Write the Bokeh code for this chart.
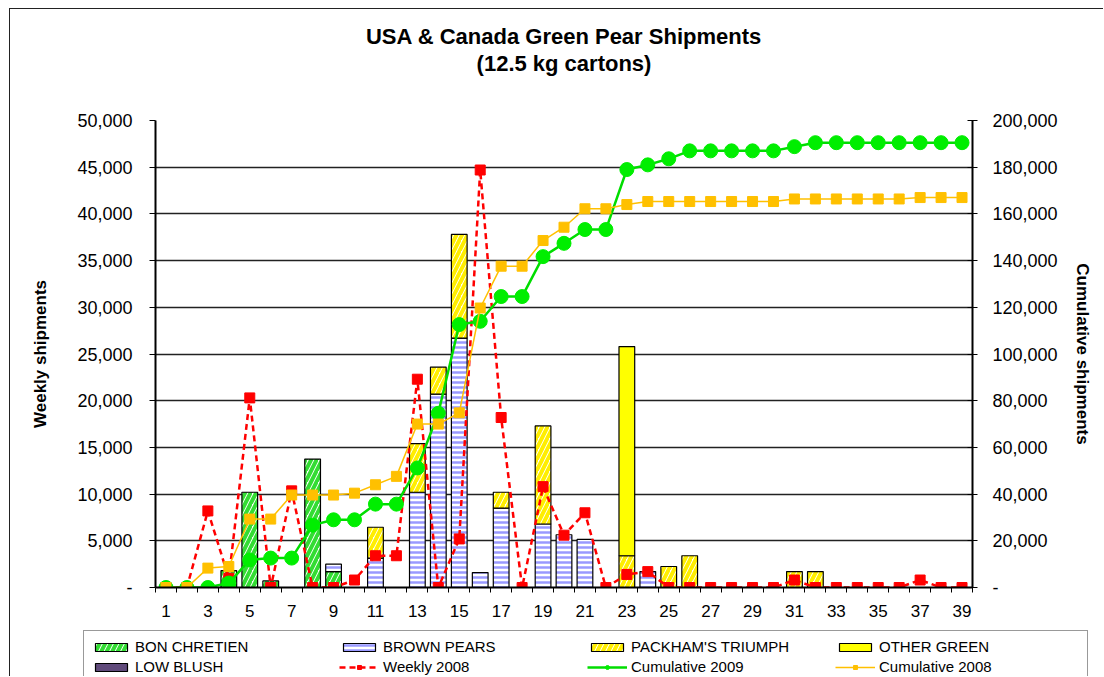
from bokeh.plotting import figure
from bokeh.layouts import column
from bokeh.models import (ColumnDataSource, Range1d, LinearAxis, FixedTicker, Legend, LegendItem,
                          Title, CDSView, BooleanFilter, NumeralTickFormatter)
from bokeh.embed import file_html
from bokeh.resources import INLINE

# ---------------- data ----------------
weeks = list(range(1, 40))
bon_chretien = [0, 0, 0, 1800, 10200, 700, 0, 13750, 1700, 0, 0, 0, 0, 0, 0, 0, 0, 0, 0, 0,
                0, 0, 0, 0, 0, 0, 0, 0, 0, 0, 0, 0, 0, 0, 0, 0, 0, 0, 0]
brown_pears = [0, 0, 0, 0, 0, 0, 0, 0, 800, 0, 3150, 0, 10200, 20700, 26700, 1600, 8500, 0, 6800, 5650,
               5150, 0, 0, 1700, 0, 0, 0, 0, 0, 0, 0, 0, 0, 0, 0, 0, 0, 0, 0]
packhams = [0, 0, 0, 0, 0, 0, 0, 0, 0, 0, 3300, 0, 5200, 2900, 11100, 0, 1700, 0, 10500, 0,
            0, 0, 3400, 0, 2250, 3400, 0, 0, 0, 0, 1700, 1700, 0, 0, 0, 0, 0, 0, 0]
other_green = [0, 0, 0, 0, 0, 0, 0, 0, 0, 0, 0, 0, 0, 0, 0, 0, 0, 0, 0, 0,
               0, 0, 22400, 0, 0, 0, 0, 0, 0, 0, 0, 0, 0, 0, 0, 0, 0, 0, 0]
low_blush = [0] * 39
weekly_2008 = [0, 0, 8200, 1000, 20300, 0, 10350, 0, 0, 800, 3400, 3400, 22300, 0, 5200, 44700, 18200, 0,
               10800, 5600, 8000, 0, 1400, 1700, 0, 0, 0, 0, 0, 0, 800, 0, 0, 0, 0, 0, 800, 0, 0]
cumulative_2009 = [0, 0, 0, 1900, 11800, 12600, 12600, 26700, 29000, 29000, 35700, 35700, 51200, 74600,
                   112600, 114000, 124600, 124600, 141700, 147400, 153300, 153300, 179000, 181000, 183600,
                   187000, 187000, 187000, 187000, 187000, 188800, 190500, 190500, 190500, 190500, 190500,
                   190500, 190500, 190500]
cumulative_2008 = [0, 0, 8300, 9000, 29300, 29300, 39600, 39600, 39600, 40400, 44000, 47600, 70000, 70000,
                   74800, 119700, 137600, 137600, 148600, 154300, 162200, 162200, 164000, 165300, 165300,
                   165300, 165300, 165300, 165300, 165300, 166400, 166400, 166400, 166400, 166400, 166400,
                   167000, 167000, 167000]
x_tick_labels = list(range(1, 40, 2))
left_ticks = list(range(0, 50001, 5000))
right_ticks = list(range(0, 200001, 20000))

series_names = ["BON CHRETIEN", "BROWN PEARS", "PACKHAM'S TRIUMPH", "OTHER GREEN", "LOW BLUSH"]
series_keys = ["bc", "brown", "pack", "other", "blush"]
series_values = [bon_chretien, brown_pears, packhams, other_green, low_blush]

FONT = "Liberation Sans"

source = ColumnDataSource(dict(week=weeks, bc=bon_chretien, brown=brown_pears, pack=packhams,
                               other=other_green, blush=low_blush, w08=weekly_2008,
                               c09=cumulative_2009, c08=cumulative_2008))

bar_styles = [
    dict(fill_color="white", hatch_pattern="right_diagonal_line", hatch_color="#33DD33", hatch_weight=4, hatch_scale=11),
    dict(fill_color="white", hatch_pattern="horizontal_line", hatch_color="#9999FF", hatch_weight=2.5, hatch_scale=5),
    dict(fill_color="white", hatch_pattern="right_diagonal_line", hatch_color="#FFEE00", hatch_weight=4, hatch_scale=11),
    dict(fill_color="#FFFF00"),
    dict(fill_color="#604A7B"),
]
w08_style = dict(line_color="#FF0000", line_width=2.5, line_dash="6 4")
w08_mark = dict(marker="square", size=10, fill_color="#FF0000", line_color="#FF0000")
c09_style = dict(line_color="#00DD00", line_width=2.5)
c09_mark = dict(marker="circle", size=14, fill_color="#00EE00", line_color="#00EE00")
c08_style = dict(line_color="#FFC000", line_width=1.5)
c08_mark = dict(marker="square", size=10, fill_color="#FFC000", line_color="#FFC000")


def add_marks(fig, use_views):
    bars = fig.vbar_stack(series_keys, x="week", width=0.75, source=source,
                          line_color="black", line_width=1.2,
                          fill_color=[s["fill_color"] for s in bar_styles])
    for r, st, vals in zip(bars, bar_styles, series_values):
        for k, v in st.items():
            setattr(r.glyph, k, v)
        if use_views:
            r.view = CDSView(filter=BooleanFilter([v > 0 for v in vals]))
    lines = [
        (fig.line("week", "w08", source=source, **w08_style),
         fig.scatter("week", "w08", source=source, **w08_mark)),
        (fig.line("week", "c09", source=source, y_range_name="cum", **c09_style),
         fig.scatter("week", "c09", source=source, y_range_name="cum", **c09_mark)),
        (fig.line("week", "c08", source=source, y_range_name="cum", **c08_style),
         fig.scatter("week", "c08", source=source, y_range_name="cum", **c08_mark)),
    ]
    return bars, lines


p = figure(width=1094, height=621, output_backend="svg", toolbar_location=None,
           x_range=Range1d(0.5, 39.5), y_range=Range1d(0, 50000),
           min_border_left=145, min_border_right=132, min_border_top=111, min_border_bottom=43)
p.extra_y_ranges = {"cum": Range1d(0, 200000)}
p.outline_line_color = None
p.background_fill_color = "white"
p.border_fill_color = "white"
add_marks(p, True)

# ---------------- axes ----------------
p.xgrid.visible = False
p.ygrid.ticker = FixedTicker(ticks=left_ticks)
p.ygrid.grid_line_color = "#222222"
p.ygrid.grid_line_width = 1.3

xa = p.xaxis[0]
xa.ticker = FixedTicker(ticks=x_tick_labels, minor_ticks=[w - 0.5 for w in weeks] + [39.5])
xa.major_tick_out = 0
xa.major_tick_in = 0
xa.minor_tick_out = 5
xa.minor_tick_in = 0
xa.minor_tick_line_color = "black"
xa.major_label_standoff = 12
xa.axis_line_width = 2
xa.axis_line_color = "black"

ya = p.yaxis[0]
ya.ticker = FixedTicker(ticks=left_ticks)
ya.formatter = NumeralTickFormatter(format="0,0")
ya.major_label_overrides = {0: "-"}
ya.minor_tick_out = 0
ya.minor_tick_in = 0
ya.major_tick_out = 6
ya.major_tick_in = 0
ya.major_label_standoff = 17
ya.axis_label = "Weekly shipments"
ya.axis_label_standoff = 24
ya.axis_line_width = 2

ra = LinearAxis(y_range_name="cum", ticker=FixedTicker(ticks=right_ticks),
                formatter=NumeralTickFormatter(format="0,0"))
ra.major_label_overrides = {0: "-"}
ra.major_tick_out = 5
ra.major_tick_in = 5
ra.minor_tick_out = 0
ra.minor_tick_in = 0
ra.major_label_standoff = 15
ra.axis_label = "Cumulative shipments"
ra.axis_label_standoff = 12
ra.axis_line_width = 2
p.add_layout(ra, "right")

for ax in (xa, ya, ra):
    ax.major_label_text_font = FONT
    ax.major_label_text_font_size = "18px"
    ax.major_label_text_color = "black"
    ax.axis_label_text_font = FONT
    ax.axis_label_text_font_size = "17px"
    ax.axis_label_text_font_style = "bold"
    ax.axis_label_text_color = "black"
    ax.major_tick_line_color = "black"
xa.major_label_text_font_size = "17px"

# ---------------- titles ----------------
spacer = Title(text=" ", text_font_size="4px", standoff=38)
sub = Title(text="(12.5 kg cartons)", align="center", text_font=FONT, text_font_size="22px",
            text_font_style="bold", text_color="black", standoff=0, offset=6)
main = Title(text="USA & Canada Green Pear Shipments", align="center", text_font=FONT,
             text_font_size="22px", text_font_style="bold", text_color="black", standoff=0, offset=6)
p.add_layout(spacer, "above")
p.add_layout(sub, "above")
p.add_layout(main, "above")

# ---------------- legend strip (same series, with ranges far away so no mark shows) ----------------
lg = figure(width=1094, height=47, output_backend="svg", toolbar_location=None,
            x_range=Range1d(5000, 5001), y_range=Range1d(1e8, 1e8 + 1),
            min_border_left=0, min_border_right=0, min_border_top=0, min_border_bottom=0)
lg.frame_align = False
lg.extra_y_ranges = {"cum": Range1d(1e8, 1e8 + 1)}
lg.axis.visible = False
lg.grid.visible = False
lg.outline_line_color = None
lg.border_fill_color = "white"
lg.background_fill_color = "white"
lg_bars, lg_lines = add_marks(lg, False)

items = [LegendItem(label=n, renderers=[r]) for n, r in zip(series_names, lg_bars)]
for name, (l1, l2) in zip(["Weekly 2008", "Cumulative 2009", "Cumulative 2008"], lg_lines):
    items.append(LegendItem(label=name, renderers=[l1, l2]))

legend = Legend(items=items, ncols=4, orientation="horizontal", location=(73, -7),
                label_text_font=FONT, label_text_font_size="15px", label_text_color="black",
                glyph_width=40, glyph_height=10, label_width=201, label_standoff=4, spacing=3,
                label_height=14, padding=7, margin=0,
                border_line_color="#333333", border_line_width=1.2, background_fill_color="white")
lg.add_layout(legend, "center")

layout = column(p, lg, spacing=0)
p.styles = {"border-left": "1px solid #222", "border-top": "1px solid #222"}
lg.styles = {"border-left": "1px solid #222"}
layout.styles = {"margin-left": "9px", "margin-top": "8px"}

open("out.html", "w").write(file_html(layout, INLINE))
